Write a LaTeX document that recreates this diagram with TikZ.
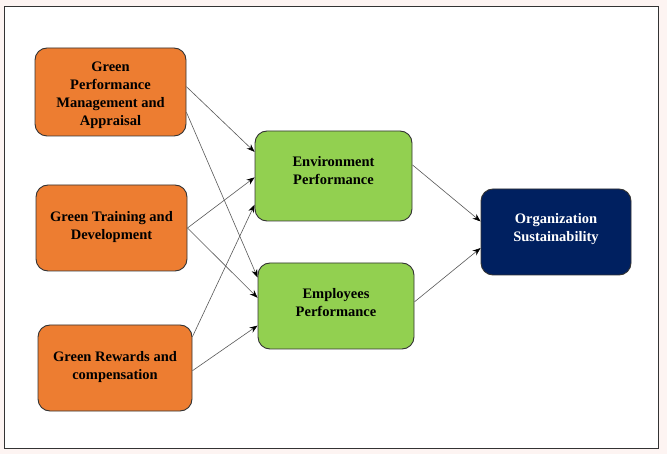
\documentclass[tikz,border=0pt]{standalone}
\usepackage{fontspec}
\setmainfont{Liberation Serif}
\usepackage{tikz}
\usetikzlibrary{positioning, arrows.meta}

\definecolor{gorange}{HTML}{ED7D31}
\definecolor{ggreen}{HTML}{92D050}
\definecolor{gnavy}{HTML}{002060}
\definecolor{pagebg}{HTML}{FDF4F2}

\tikzset{
  factor/.style={draw=black!80, line width=0.9pt, rounded corners=12pt, align=center,
    font=\fontsize{14.5}{18}\selectfont\bfseries},
  hrbox/.style={factor, fill=gorange, minimum width=151pt, minimum height=88pt},
  perfbox/.style={factor, fill=ggreen, minimum width=157pt, minimum height=88pt},
  goalbox/.style={factor, fill=gnavy, text=white, minimum width=150pt, minimum height=86pt},
  link/.style={draw=black!65, line width=0.6pt, -{Stealth[length=8pt,width=6pt,black]}}
}

\begin{document}
\begin{tikzpicture}[x=1pt, y=-1pt]
    % Page and frame
    \fill[pagebg] (0,0) rectangle (667,454);
    \useasboundingbox (0,0) rectangle (667,454);
    \draw[fill=white, draw=black!80, line width=0.9pt] (4,6) rectangle (658,448);

    % Green HRM practices
    \node[hrbox] (gpma) at (110.5,92) {\rule{0pt}{16pt}Green\\Performance\\Management and\\Appraisal};
    \node[hrbox, minimum height=86pt] (gtd) at (111.5,228) {Green Training and\\Development\\[-12pt]};
    \node[hrbox, minimum width=154pt, minimum height=86pt] (grc) at (115,368) {Green Rewards and\\compensation\\[-12pt]};

    % Performance
    \node[perfbox, minimum height=90pt] (env) at (333.5,176) {Environment\\Performance\\[-6pt]};
    \node[perfbox, minimum width=156pt, minimum height=86pt] (emp) at (336,306) {Employees\\Performance\\[-10pt]};

    % Outcome
    \node[goalbox] (org) at (556,232) {Organization\\Sustainability\\[-9pt]};

    % Links
    \draw[link] (gpma.4) -- (env.163);
    \draw[link] (gpma.-15) -- (emp.160);
    \draw[link] (gtd.east) -- (env.181);
    \draw[link] (gtd.east) -- (emp.174);
    \draw[link] (grc.22) -- (env.200);
    \draw[link] (grc.-2) -- (emp.194);
    \draw[link] (env.8) -- (org.172);
    \draw[link] (emp.3) -- (org.192);

\end{tikzpicture}
\end{document}
